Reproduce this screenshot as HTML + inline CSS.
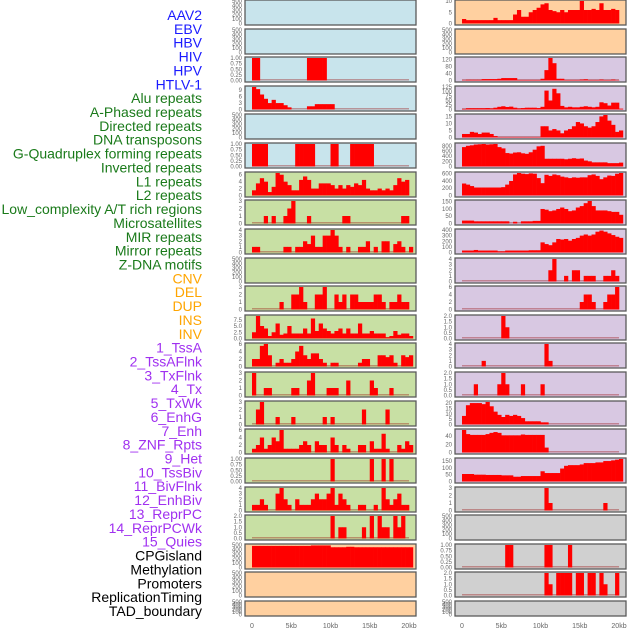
<!DOCTYPE html>
<html><head><meta charset="utf-8"><style>
html,body{margin:0;padding:0;background:#fff;width:630px;height:630px;overflow:hidden}
svg{display:block}
</style></head><body>
<svg id="chart" width="630" height="630" xmlns="http://www.w3.org/2000/svg" font-family="Liberation Sans, sans-serif"></svg>
<script>
const labels = ["AAV2","EBV","HBV","HIV","HPV","HTLV-1","Alu repeats","A-Phased repeats","Directed repeats","DNA transposons","G-Quadruplex forming repeats","Inverted repeats","L1 repeats","L2 repeats","Low_complexity A/T rich regions","Microsatellites","MIR repeats","Mirror repeats","Z-DNA motifs","CNV","DEL","DUP","INS","INV","1_TssA","2_TssAFlnk","3_TxFlnk","4_Tx","5_TxWk","6_EnhG","7_Enh","8_ZNF_Rpts","9_Het","10_TssBiv","11_BivFlnk","12_EnhBiv","13_ReprPC","14_ReprPCWk","15_Quies","CPGisland","Methylation","Promoters","ReplicationTiming","TAD_boundary"];
const groupColors = ["#1a1aff","#1a7a1a","#ffa500","#a030f0","#000000"];
const groupOf = [0,0,0,0,0,0,1,1,1,1,1,1,1,1,1,1,1,1,1,2,2,2,2,2,3,3,3,3,3,3,3,3,3,3,3,3,3,3,3,4,4,4,4,4];
const panelBg = ["#c8e4ec","#c8e0a4","#ffd0a0","#d8c8e2","#d0d0d0"];
const xTickLabels = ["0","5kb","10kb","15kb","20kb"];
const xTickValues = [0,5,10,15,20];
const binKb = 0.5;
// ---- track values (0.5 kb bins) ----
const E = [];
const HIVv = [1,1,0,0,0,0,0,0,0,0,0,0,0,0,1,1,1,1,1,0];
const HPVv = [10.5,9.5,7,5,3,4.5,3,3,2,1,0,0,0,0,1.5,1.5,2.5,2.5,2.5,2.5,2.5];
const HTLVv = [1,1,1,1,0,0,0,0,0,0,0,1,1,1,1,1,0,0,0,0,1,1,0,0,0,1,1,1,1,1,1];
const AluV = [1.5,3.5,5,4,1,2.5,6.5,6,4,3,1.5,1.5,4.5,5.5,4.5,2,2,3.5,3.5,3.5,3,2,3,2,3,2.5,3.5,3,4.5,2,1.5,1.5,2,1.5,2,1.5,3,5,4,4.5,0];
const APhV = [0,0,0,1,0,1,0,0,1,2,3,0,0,0,1,0,0,0,0,0,0,0,0,1,1,0,0,0,0,0,0,0,0,0,0,0,0,0,1,1,0];
const DirV = [1,1,0,0,0,0,0,0,1,1,0,1,1,2,1.5,3,1,1,3,3,4,3,1,0,1,0,0,1,1,2,0,1,0,2,2,0,1.5,2,1,0,1];
const GQV = [0,0,0,0,0,0,0,1,0,0,2,2,3,1,0,0,2,2,3,0,0,2,1,2,0,2,2,1,1,1,1,2,2,1,0,1,1,2,1,1,0];
const InvV = [2.5,9,5,4,1,2.5,6,1.5,2,5,2,2,2,4,2,8,3,6,4,3,2,3,4,2,4,2,2,6,2,2,3,2,2,2,0.5,1,3,1.5,2,2,1];
const L1V = [2,2,5.5,6,3,0,1,2,1,1,2,4,5.5,3,2,3.5,3.5,2,1,0,1,1,0,0,0,0,0,1,2,2,0,0,3,3,2.5,3,1,0,3,2.5,3];
const L2V = [3,0,0,1,1,0,0,0,0,0,1,1,0,0,2,3,0,0,0,1,1,1,0,0,2,0,0,0,0,0,2,1,0,0,0,1,0,0,0,0,0];
const LowV = [0,2,3,0,0,0,1,0,0,0,1,0,0,0,0,0,0,0,1,0,1,0,0,0,0,0,0,0,2,0,0,0,0,0,2,0,0,0,0,0,0];
const MicV = [1,2,4,1,2,4,3,6,1,1,1,1,2,3,2,0,3,2,2,0,4,2,0,2,1,0,0,2,2,0,3,1,1,5,1,0,0,2,1,3,2];
const MIRV = [0,0,0,0,0,0,0,0,0,0,0,0,0,0,0,0,0,0,0,0,1,0,0,0,0,0,0,0,0,0,1,0,0,1,0,1,0,0,0,0,0];
const MirV = [1,1,2,1,0,0,3,4,2,1,0,2,1,1,1,2,3,2,2,3,4,1,3,2,1,0,0,1,1,0,0,1,0,4,2,1,2,3,1,1,0];
const ZdnaV = [0,0,0,0,0,0,0,0,0,0,0,0,0,0,0,0,0,0,0,0,2,0,1,1,0,0,0,0,1,0,2,0,2,1,1,0,2,1,2,0,0];
const CNVV = [480,480,480,480,480,480,480,480,480,480,480,480,480,480,480,490,490,490,490,490,450,450,450,450,460,460,450,450,450,450,450,450,450,450,450,450,450,450,450,450,450];
const INSV = [2,1.5,1.5,1.5,1.5,1.5,1.5,1.5,2.5,1.5,1.5,1.5,1.5,4,6,3,3,5,6,7,8.5,9,6,5.5,5,6,5,6,6,6,10,6,6,6.5,6,9,6,6,6.5,6,0];
const TssAV = [2,4,4,4,4,8,8,8,8,10,14,14,14,14,3,3,3,3,3,3,10,60,130,100,10,10,3,3,3,3,5,7,3,3,3,5,3,3,5,2,0];
const TssAFV = [3,7,7,7,7,7,8,6,10,15,18,14,16,10,6,8,10,10,10,8,15,105,50,115,90,20,12,15,12,12,15,18,15,12,15,40,35,22,38,38,5];
const TxFV = [2.5,2.5,4,3.5,2.5,3.5,3.5,2.5,1,0.3,0.3,0.3,0.3,0.3,0.3,0.3,0.3,0.3,0.3,0.3,8,8,5,6,5,3,5,6,8,11,10,8,7,8,11,15,16,12,9,4,5];
const TxV = [750,800,820,850,860,870,850,860,870,750,700,520,500,540,550,510,490,550,650,780,800,300,300,300,300,300,280,300,320,300,310,230,200,160,160,160,160,130,130,130,150];
const TxWkV = [330,300,260,220,220,220,220,220,220,220,230,300,400,580,620,600,590,610,600,480,340,570,540,580,560,520,500,480,500,490,500,500,560,580,540,450,500,550,540,600,620];
const EnhGV = [20,20,20,15,15,15,15,15,15,15,15,15,0,12,0,15,15,15,18,18,100,95,85,90,100,110,100,85,90,110,120,140,155,120,90,90,90,85,80,80,60];
const EnhV = [35,35,35,45,35,35,35,35,35,20,20,35,35,35,35,35,35,40,40,40,180,150,130,180,240,230,240,210,240,260,300,320,300,320,370,390,370,340,310,280,260];
const ZNFV = [0,0,0,0,0,0,0,0,0,0,0,0,0,0,0,0,0,0,0,0,0,0,2,4,0,0,1,0,2,2,0,1,1,1,0,0,1,1,2,1,0];
const HetV = [0,0,0,0,0,0,0,0,0,0,0,0,0,0,0,0,0,0,0,0,0,0,0,0,0,0,0,0,0,0,2,4,4,2,0,0,2,4,4,6,0];
const TssBivV = [0,0,0,0,0,0,0,0,0,0,2,1];
const BivFV = [0,0,0,0,0,1,0,0,0,0,0,0,0,0,0,0,0,0,0,0,0,4,1];
const EnhBivV = [0,0,0,1,0,0,0,0,0,1,2,1,0,0,0,1,0,0,0,0,1];
const ReprPCV = [8,18,20,20,20,19,21,17,12,9,7,9,8,9,8,6,3,3,3,3,2,2];
const ReprPCWkV = [55,45,43,43,43,43,45,48,50,48,42,42,42,42,42,44,43,43,43,43,43,12];
const QuiesV = [55,55,55,50,50,50,48,48,48,48,45,45,45,35,35,40,40,40,40,40,75,62,62,62,62,95,115,120,120,120,125,135,135,135,140,140,150,150,155,160,165];
const CpGV = [0,0,0,0,0,0,0,0,0,0,0,0,0,0,0,0,0,0,0,0,0,3,1,0,0,0,0,0,0,0,0,0,0,0,0,0,1];
const PromV = [0,0,0,0,0,0,0,0,0,0,0,1,1,0,0,0,0,0,0,0,0,1,1,0,0,0,0,1];
const RepTV = [0,0,0,0,0,0,0,0,0,0,0,0,0,0,0,0,0,0,0,0,0,2,1,0,2,2,2,2,0,2,2,0,2,2,0,2,1,0,0,2];
// ---- y ticks per panel ----
const T500 = [0,100,200,300,400,500];
const T1 = [0,0.25,0.5,0.75,1];
const T2 = [0,0.5,1,1.5,2];
const series = [E,E,HIVv,HPVv,E,HTLVv,AluV,APhV,DirV,E,GQV,InvV,L1V,L2V,LowV,MicV,MIRV,MirV,ZdnaV,CNVV,E,E,
                INSV,E,TssAV,TssAFV,TxFV,TxV,TxWkV,EnhGV,EnhV,ZNFV,HetV,TssBivV,BivFV,EnhBivV,ReprPCV,ReprPCWkV,QuiesV,CpGV,E,PromV,RepTV,E];
const yTicks = [T500,T500,T1,[0,3,6,9],T500,T1,[0,2,4,6],[0,1,2,3],[0,1,2,3,4],T500,[0,1,2,3],[0,2.5,5,7.5],[0,2,4,6],[0,1,2,3],[0,1,2,3],[0,2,4,6],T1,[0,1,2,3,4],T2,T500,T500,T500,
                [0,5,10],T500,[0,40,80,120],[0,25,50,75,100,125],[0,5,10,15],[0,200,400,600,800],[0,200,400,600],[0,50,100,150],[0,100,200,300,400],[0,1,2,3,4],[0,2,4,6],T2,[0,1,2,3,4],T2,[0,5,10,15,20],[0,20,40],[0,50,100,150],[0,1,2,3],T500,T1,T2,T500];

const svg = document.getElementById('chart');
const NS = 'http://www.w3.org/2000/svg';
function mk(tag, attrs, parent){const e=document.createElementNS(NS,tag);for(const k in attrs)e.setAttribute(k,attrs[k]);(parent||svg).appendChild(e);return e;}
function slug(s){return s.toLowerCase().replace(/[^a-z0-9]+/g,'-').replace(/^-|-$/g,'');}
function fmt(v,tk){const dec=tk.some(t=>t%1!==0);if(!dec)return String(v);const need=tk.some(t=>Math.abs(t*4%1)>1e-9||Math.abs(t*2%1)>1e-9&&String(t).length>3);return tk.some(t=>String(t).split('.')[1]&&String(t).split('.')[1].length>1)?v.toFixed(2):v.toFixed(1);}

// labels
labels.forEach((lab,i)=>{
  const t = mk('text',{x:202,y:20+i*13.86,'text-anchor':'end','font-size':14,fill:groupColors[groupOf[i]]});
  
  
  t.textContent = lab;
});

const colX = [245,455];
const zeroX = [252,462];
const kbPx = 7.85;
const panW = 171;
function xScale(col,kb){return zeroX[col]+kb*kbPx;}

for(let i=0;i<44;i++){
  const col = i<22?0:1, row = i%22;
  const top = Math.round(row*28.62);
  const h = row===21?15:25;
  const g = mk('g',{});
  
  
  const bg = mk('rect',{x:colX[col],y:top,width:panW,height:h,fill:panelBg[groupOf[i]],stroke:'#5a5a5a','stroke-width':1.3},g);
  
  
  const vals = series[i], tk = yTicks[i];
  const plotTop = top+1, plotBot = top+h-1.5;
  const dmax = Math.max(tk[tk.length-1], vals.length?Math.max(...vals):0);
  const yS = v => plotBot - (v/dmax)*(plotBot-plotTop);
  // ticks
  tk.forEach(v=>{
    const t = mk('text',{x:colX[col]-3,y:yS(v)+2,'text-anchor':'end','font-size':6,fill:'#666'},g);
    
    
    t.textContent = fmt(v,tk);
  });
  if(vals.length){
    const base = mk('rect',{x:xScale(col,0),y:plotBot-1.5,width:20*kbPx,height:1.5,fill:'rgba(150,0,0,0.35)'},g);
    
    
    vals.forEach((v,k)=>{
      if(v<=0)return;
      const x0 = xScale(col,k*binKb), x1 = xScale(col,(k+1)*binKb);
      const b = mk('rect',{x:x0,y:yS(v),width:x1-x0+0.3,height:plotBot-yS(v),fill:'#ff0000'},g);
      
      
    });
  }
}
// x axes
for(let col=0;col<2;col++){
  xTickValues.forEach((v,j)=>{
    const t = mk('text',{x:xScale(col,v),y:628,'text-anchor':'middle','font-size':7,fill:'#666'});
    
    
    t.textContent = xTickLabels[j];
  });
}
</script>
</body></html>
